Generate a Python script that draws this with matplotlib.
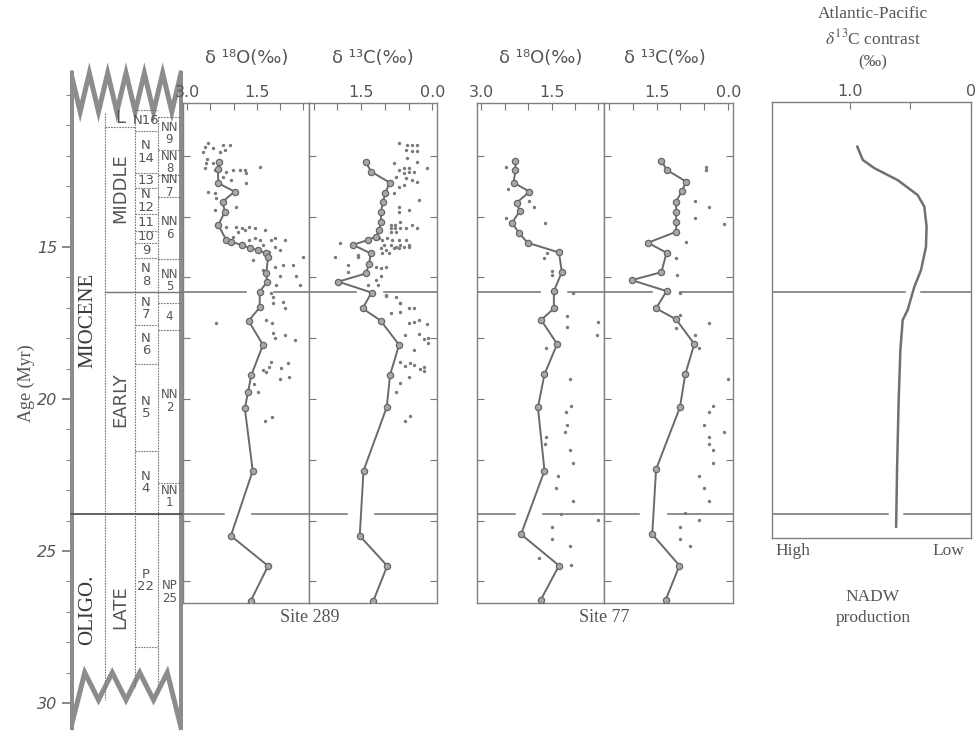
import numpy as np
import matplotlib.pyplot as plt

plt.rcParams['mathtext.fontset'] = 'stix'

# Site 289 benthic isotope records (age in Myr, per mil)
age_289_o18_line = [12.21, 12.44, 12.90, 13.18, 13.51, 13.84, 14.28, 14.77, 14.83,
                    14.93, 15.04, 15.10, 15.21, 15.32, 15.87, 16.14, 16.47, 16.99,
                    17.43, 18.22, 19.21, 19.76, 20.31, 22.36, 24.50, 25.49, 26.63]
o18_289_line = [2.32, 2.34, 2.33, 1.98, 2.24, 2.19, 2.33, 2.16, 2.05,
                1.83, 1.65, 1.48, 1.30, 1.26, 1.30, 1.28, 1.44, 1.44,
                1.68, 1.37, 1.62, 1.69, 1.76, 1.59, 2.06, 1.26, 1.63]
age_289_o18_pts = [11.57, 11.70, 11.86, 11.75, 11.64, 11.64, 11.81, 11.86, 12.12,
                   12.25, 12.23, 12.41, 12.47, 12.52, 12.47, 12.47, 12.47, 12.58,
                   12.80, 12.36, 12.69, 13.18, 13.23, 13.40, 13.69, 13.78, 12.91,
                   14.33, 14.33, 14.39, 14.44, 14.33, 14.39, 14.44, 14.50, 14.66,
                   14.77, 14.71, 14.77, 14.77, 14.71, 14.77, 14.93, 14.99, 15.10,
                   15.15, 15.32, 15.43, 15.65, 15.59, 15.59, 15.76, 15.97, 15.97,
                   16.25, 16.25, 16.52, 16.63, 16.80, 16.85, 17.02, 17.51, 17.40,
                   17.49, 17.84, 18.00, 17.89, 18.06, 18.77, 18.94, 19.05, 19.10,
                   18.99, 18.83, 19.29, 19.35, 19.52, 19.76, 20.58, 20.72]
o18_289_pts = [2.55, 2.62, 2.66, 2.44, 2.23, 2.08, 2.19, 2.30, 2.57,
               2.59, 2.44, 2.62, 2.41, 2.16, 2.01, 1.87, 1.76, 1.73,
               2.05, 1.44, 2.23, 2.55, 2.41, 2.39, 1.94, 2.41, 1.73,
               2.16, 1.94, 1.83, 1.76, 1.66, 1.55, 1.33, 1.91, 2.01,
               1.66, 1.55, 1.44, 1.19, 1.12, 0.90, 1.37, 1.12, 1.01,
               1.23, 0.51, 1.58, 1.12, 0.94, 0.73, 1.37, 1.01, 0.65,
               0.58, 1.08, 1.19, 1.15, 0.94, 1.15, 0.90, 2.37, 1.30,
               1.17, 1.15, 1.12, 0.90, 0.69, 1.19, 1.23, 1.37, 1.30,
               0.98, 0.83, 0.81, 1.01, 1.56, 1.48, 1.17, 1.32]

age_289_c13_line = [12.21, 12.52, 12.88, 13.23, 13.51, 13.84, 14.17, 14.44, 14.66,
                    14.77, 14.93, 15.21, 15.55, 15.87, 16.14, 16.50, 17.02, 17.42,
                    18.22, 19.21, 20.27, 22.36, 24.50, 25.49, 26.63]
c13_289_line = [1.40, 1.29, 0.90, 0.99, 1.04, 1.08, 1.08, 1.12, 1.19,
                1.36, 1.67, 1.30, 1.33, 1.40, 1.98, 1.28, 1.47, 1.09,
                0.70, 0.89, 0.96, 1.45, 1.53, 0.95, 1.24]
age_289_c13_pts = [11.59, 11.64, 11.64, 11.64, 11.81, 11.83, 11.83, 12.08, 12.19,
                   12.25, 12.41, 12.41, 12.47, 12.52, 12.52, 12.58, 12.41, 12.69,
                   12.74, 12.80, 12.85, 12.96, 13.04, 13.23, 13.45, 13.67, 13.84,
                   13.78, 14.17, 14.28, 14.28, 14.39, 14.39, 14.39, 14.39, 14.28,
                   14.39, 14.50, 14.50, 14.88, 14.71, 14.77, 14.71, 14.77, 14.77,
                   14.77, 14.93, 14.93, 14.99, 14.93, 14.93, 15.04, 15.10, 15.04,
                   15.04, 15.00, 15.00, 15.21, 15.21, 15.32, 15.26, 15.32, 15.59,
                   15.81, 15.65, 15.70, 15.67, 15.97, 16.09, 16.25, 16.25, 16.58,
                   16.63, 16.85, 17.02, 17.02, 16.61, 16.83, 17.16, 17.13, 17.51,
                   17.46, 17.40, 17.53, 17.90, 17.87, 18.04, 18.00, 18.15, 18.39,
                   18.77, 18.81, 18.88, 18.91, 19.02, 18.96, 19.07, 19.29, 19.49,
                   19.76, 20.56, 20.71]
c13_289_pts = [0.70, 0.53, 0.42, 0.32, 0.56, 0.42, 0.32, 0.53, 0.32,
               0.81, 0.60, 0.49, 0.70, 0.49, 0.39, 0.60, 0.11, 0.77,
               0.56, 0.42, 0.32, 0.60, 0.70, 0.81, 0.29, 0.70, 0.70,
               0.49, 0.67, 0.88, 0.78, 0.88, 0.78, 0.67, 0.56, 0.42,
               0.32, 0.88, 0.77, 1.95, 1.12, 1.05, 0.95, 0.84, 0.70,
               0.56, 1.01, 0.88, 0.77, 0.67, 0.49, 1.08, 0.98, 0.81,
               0.70, 0.60, 0.49, 1.05, 0.91, 2.06, 1.57, 1.57, 1.78,
               1.78, 1.19, 1.08, 0.98, 1.08, 1.19, 1.15, 1.36, 0.98,
               0.77, 0.67, 0.49, 0.39, 0.98, 0.67, 0.88, 0.67, 0.49,
               0.39, 0.28, 0.11, 0.58, 0.28, 0.18, 0.09, 0.09, 0.39,
               0.67, 0.47, 0.39, 0.58, 0.25, 0.18, 0.18, 0.49, 0.67,
               0.77, 0.47, 0.58]

# Site 77 benthic isotope records
age_77_o18_line = [12.17, 12.47, 12.88, 13.18, 13.54, 13.82, 14.20, 14.53, 14.86,
                   15.18, 15.83, 16.45, 17.02, 17.40, 18.19, 19.19, 20.27, 22.36,
                   24.45, 25.48, 26.61]
o18_77_line = [2.27, 2.27, 2.31, 1.97, 2.24, 2.18, 2.34, 2.20, 2.01,
               1.34, 1.28, 1.45, 1.45, 1.72, 1.38, 1.65, 1.79, 1.65,
               2.15, 1.34, 1.73]
age_77_o18_pts = [12.38, 13.09, 13.49, 13.67, 14.06, 14.22, 15.19, 15.37, 15.79,
                  15.92, 16.52, 17.27, 17.62, 17.46, 17.90, 18.33, 19.34, 20.23,
                  20.42, 20.86, 21.08, 21.24, 21.48, 21.68, 22.09, 22.53, 22.94,
                  23.34, 23.79, 23.98, 24.20, 24.62, 24.83, 25.22, 25.46]
o18_77_pts = [2.47, 2.43, 1.98, 1.88, 2.48, 1.63, 1.60, 1.67, 1.48,
              1.48, 1.05, 1.17, 1.17, 0.50, 0.54, 1.61, 1.11, 1.08,
              1.20, 1.18, 1.22, 1.61, 1.63, 1.11, 1.04, 1.36, 1.41,
              1.04, 1.29, 0.50, 1.48, 1.48, 1.11, 1.77, 1.09]

age_77_c13_line = [12.17, 12.47, 12.85, 13.16, 13.51, 13.84, 14.17, 14.50, 14.86,
                   15.19, 15.83, 16.09, 16.45, 17.02, 17.38, 18.19, 19.19, 20.27,
                   22.31, 24.45, 25.48, 26.61]
c13_77_line = [1.40, 1.28, 0.88, 0.97, 1.09, 1.09, 1.09, 1.09, 1.68,
               1.29, 1.40, 2.02, 1.29, 1.51, 1.09, 0.71, 0.90, 1.01,
               1.51, 1.59, 1.02, 1.31]
age_77_c13_pts = [12.36, 12.47, 13.49, 13.67, 14.06, 14.24, 14.83, 15.35, 15.92,
                  16.50, 17.24, 17.49, 17.68, 17.90, 18.33, 19.34, 20.23, 20.42,
                  20.86, 21.08, 21.24, 21.48, 21.68, 22.09, 22.53, 22.94, 23.34,
                  23.76, 23.98, 24.20, 24.62, 24.83]
c13_77_pts = [0.47, 0.47, 0.69, 0.40, 0.69, 0.09, 0.88, 1.09, 1.08,
              1.01, 1.01, 0.40, 1.09, 0.69, 0.61, 0.01, 0.31, 0.40,
              0.51, 0.09, 0.40, 0.40, 0.31, 0.31, 0.61, 0.51, 0.40,
              0.90, 0.61, 1.01, 1.01, 0.81]

# Atlantic-Pacific d13C contrast
age_contrast = [11.70, 12.14, 12.41, 12.80, 13.29, 13.67, 14.33, 14.99,
                15.76, 16.31, 17.07, 17.40, 18.39, 20.03, 22.23, 24.20]
contrast = [0.937, 0.891, 0.795, 0.604, 0.440, 0.385, 0.366, 0.371,
            0.412, 0.467, 0.522, 0.563, 0.582, 0.596, 0.609, 0.617]

# stratigraphy (ages of zone boundaries and labels)
boundary_ages = [16.48, 23.78]
foram_bounds = [10.49, 11.18, 12.57, 13.06, 13.91, 14.47, 14.87, 15.36,
                16.48, 17.57, 18.85, 21.71, 23.78, 28.16]
foram_labels = ['N16', 'N\n14', '13', 'N\n12', '11', '10', '9',
                'N\n8', 'N\n7', 'N\n6', 'N\n5', 'N\n4', 'P\n22']
nanno_bounds = [10.72, 11.81, 12.63, 13.36, 15.39, 16.84, 17.73, 22.76, 23.78]
nanno_labels = ['NN\n9', 'NN\n8', 'NN\n7', 'NN\n6', 'NN\n5', '4',
                'NN\n2', 'NN\n1', 'NP\n25']
nanno_label_ages = [11.27, 12.22, 12.99, 14.37, 16.11, 17.29, 20.07, 23.2, 26.35]
subepoch_labels = ['L', 'MIDDLE', 'EARLY', 'LATE']
subepoch_ages = [10.75, 13.06, 20.03, 26.84]
subepoch_bounds = [11.05, 16.48]
epoch_labels = ['MIOCENE', 'OLIGO.']
epoch_ages = [17.4, 26.94]
age_ticks = [15, 20, 25, 30]

GREY = '#6a6a6a'
TEXT = '#555555'
W, H = 979, 734


def age_to_px(age):
    '''Vertical pixel position (from the top) of an age.'''
    return 399 + (age - 20) * 30.4


def add_axes_px(fig, left, right, age_top, age_bottom):
    '''
    Add an axes spanning pixel columns left..right and the given age range.
    '''
    top = age_to_px(age_top)
    bottom = age_to_px(age_bottom)
    ax = fig.add_axes([left / W, 1 - bottom / H, (right - left) / W, (bottom - top) / H])
    ax.set_ylim(age_bottom, age_top)
    for spine in ax.spines.values():
        spine.set_color('#808080')
        spine.set_linewidth(1.0)
    return ax


def draw_column(fig):
    '''Stratigraphic column with epochs and biozones.'''
    ax = add_axes_px(fig, 70, 183, 8.9, 31.05)
    ax.set_xlim(70, 183)
    for spine in ax.spines.values():
        spine.set_visible(False)
    ax.set_xticks([])
    ax.set_yticks(age_ticks)
    ax.set_yticklabels(
        [str(t) for t in age_ticks],
        fontstyle='italic',
        fontsize=11.5,
        color=TEXT)
    ax.set_yticks(np.arange(10, 31), minor=True)
    ax.tick_params(axis='y', which='major', direction='out', length=6,
                   width=1.2, color='#777777', pad=3)
    ax.tick_params(axis='y', which='minor', direction='out', length=3,
                   width=0.8, color='#888888')
    border = dict(color='#8c8c8c', lw=3.6, solid_joinstyle='miter')
    # zigzag breaks top and bottom
    xs = np.linspace(71, 181, 13)
    top = np.where(np.arange(13) % 2 == 1, 10.55, 9.28)
    ax.plot(xs, top, **border)
    xs = np.linspace(71, 181, 9)
    bot = np.where(np.arange(9) % 2 == 1, 29.0, 29.9)
    bot[0] = bot[-1] = 30.8
    ax.plot(xs, bot, **border)
    ax.plot([71, 71], [9.28, 30.8], **border)
    ax.plot([181, 181], [9.28, 30.8], **border)
    thin = dict(color='#777777', lw=0.8, ls=(0, (1.5, 1)))
    ax.plot([105, 105], [10.6, 29.9], **thin)
    ax.plot([135, 135], [10.49, 29.5], **thin)
    ax.plot([157.5, 157.5], [10.72, 29.6], **thin)
    for a in foram_bounds:
        ax.plot([135, 157.5], [a, a], **thin)
    for a in nanno_bounds:
        ax.plot([157.5, 181], [a, a], **thin)
    for a in subepoch_bounds:
        ax.plot([105, 135], [a, a], **thin)
    ax.plot([71, 183], [boundary_ages[1]] * 2, color='#555555', lw=1.3)
    ax.plot([105, 183], [boundary_ages[0]] * 2, color='#777777', lw=1.0)
    mids = [(a + b) / 2 for a, b in zip(foram_bounds[:-1], foram_bounds[1:])]
    for a, lab in zip(mids, foram_labels):
        ax.text(146, a, lab, ha='center', va='center', fontsize=9.5,
                color=TEXT, linespacing=0.95)
    for a, lab in zip(nanno_label_ages, nanno_labels):
        ax.text(169.5, a, lab, ha='center', va='center', fontsize=8.5,
                color=TEXT, linespacing=0.95)
    for a, lab in zip(subepoch_ages, subepoch_labels):
        ax.text(120, a, lab, ha='center', va='center', rotation=90 if len(lab) > 1 else 0,
                fontsize=13, color=TEXT)
    for a, lab in zip(epoch_ages, epoch_labels):
        ax.text(88, a, lab, ha='center', va='center', rotation=90,
                fontsize=15, family='Liberation Serif', color='#3a3a3a')


def boundary_line(ax, age, curve_ages, curve_vals, gap, xlim):
    '''Horizontal boundary interrupted where the curve crosses it.'''
    xc = np.interp(age, curve_ages, curve_vals)
    style = dict(color='#6f6f6f', lw=1.1, zorder=1)
    ax.plot([xlim[0], xc + gap], [age, age], **style)
    ax.plot([xc - gap, xlim[1]], [age, age], **style)


def isotope_panel(fig, left, right, line_age, line_val, pts_age, pts_val,
                  kind):
    '''One benthic isotope panel (d18O or d13C) against age.'''
    ax = add_axes_px(fig, left, right, 10.26, 26.71)
    if kind == 'o18':
        xlim = (3.09, 0.38)
        ticks = [3.0, 2.5, 2.0, 1.5, 1.0, 0.5]
        labels = ['3.0', '', '', '1.5', '', '']
    else:
        xlim = (2.6, -0.1)
        ticks = [2.5, 2.0, 1.5, 1.0, 0.5, 0.0]
        labels = ['', '', '1.5', '', '', '0.0']
    ax.set_xlim(xlim)
    ax.xaxis.tick_top()
    ax.set_xticks(ticks)
    ax.set_xticklabels(labels, fontsize=11.5, color=TEXT)
    ax.set_yticks(np.arange(12, 27, 2))
    ax.set_yticklabels([])
    ax.tick_params(axis='x', direction='in', length=5, color='#777777', pad=2)
    ax.tick_params(axis='y', direction='in', length=5, color='#777777',
                   right=(kind == 'c13'))
    for a in boundary_ages:
        boundary_line(ax, a, line_age, line_val, 0.3, xlim)
    ax.scatter(pts_val, pts_age, s=6, color='#7a7a7a', linewidths=0, zorder=2)
    ax.plot(line_val, line_age, color=GREY, lw=1.4, marker='o', ms=4.5,
            mfc='#a8a8a8', mec='#666666', mew=0.9, zorder=3)
    return ax


def contrast_panel(fig):
    '''Atlantic-Pacific d13C contrast, a proxy for NADW production.'''
    ax = add_axes_px(fig, 772, 971, 10.23, 24.57)
    xlim = (1.64, 0.0)
    ax.set_xlim(xlim)
    ax.xaxis.tick_top()
    ax.set_xticks([1.0, 0.5, 0.0])
    ax.set_xticklabels(['1.0', '', '0'], fontsize=11.5, color=TEXT)
    ax.tick_params(axis='x', direction='in', length=5, color='#777777', pad=2)
    ax.set_yticks([])
    for a in boundary_ages:
        boundary_line(ax, a, age_contrast, contrast, 0.065, xlim)
    ax.plot(contrast, age_contrast, color='#707070', lw=1.8, zorder=3)
    serif = dict(family='Liberation Serif', fontsize=12.5, color=TEXT,
                 ha='center', va='center')
    fig.text(873 / W, 1 - 14 / H, 'Atlantic-Pacific', **serif)
    fig.text(873 / W, 1 - 38 / H, r'$\delta^{13}$C contrast', **serif)
    fig.text(873 / W, 1 - 62 / H, '(‰)', **serif)
    fig.text(793 / W, 1 - 551 / H, 'High', **serif)
    fig.text(948 / W, 1 - 551 / H, 'Low', **serif)
    fig.text(873 / W, 1 - 597 / H, 'NADW', **serif)
    fig.text(873 / W, 1 - 618 / H, 'production', **serif)


fig = plt.figure(figsize=(W / 100, H / 100), dpi=100)
draw_column(fig)
isotope_panel(fig, 183, 309, age_289_o18_line, o18_289_line,
              age_289_o18_pts, o18_289_pts, 'o18')
isotope_panel(fig, 309, 437, age_289_c13_line, c13_289_line,
              age_289_c13_pts, c13_289_pts, 'c13')
isotope_panel(fig, 477, 604, age_77_o18_line, o18_77_line,
              age_77_o18_pts, o18_77_pts, 'o18')
isotope_panel(fig, 604, 733, age_77_c13_line, c13_77_line,
              age_77_c13_pts, c13_77_pts, 'c13')
contrast_panel(fig)

title = dict(fontsize=13, color=TEXT, ha='center', va='center')
for x, lab in [(247, 'δ ¹⁸O(‰)'), (373, 'δ ¹³C(‰)'),
               (541, 'δ ¹⁸O(‰)'), (665, 'δ ¹³C(‰)')]:
    fig.text(x / W, 1 - 58 / H, lab, **title)
site = dict(family='Liberation Serif', fontsize=13, color=TEXT,
            ha='center', va='center')
fig.text(310 / W, 1 - 618 / H, 'Site 289', **site)
fig.text(604 / W, 1 - 618 / H, 'Site 77', **site)
fig.text(26 / W, 1 - 383 / H, 'Age (Myr)', rotation=90, **site)

fig.savefig('out.png', dpi=100)
